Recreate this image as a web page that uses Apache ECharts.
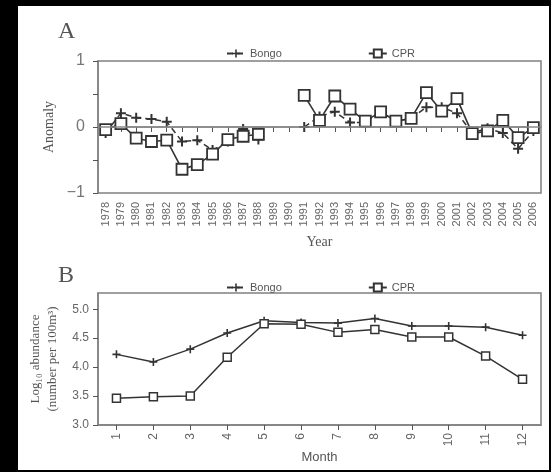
<!DOCTYPE html>
<html>
<head>
<meta charset="utf-8">
<script src="https://cdn.jsdelivr.net/npm/echarts@6/dist/echarts.min.js"></script>
<style>
  html, body { margin: 0; padding: 0; background: #000; }
  #chart { position: absolute; left: 18px; top: 6px; width: 531px; height: 464px; background: #fff; }
</style>
</head>
<body>
<div id="chart"></div>
<script>
// panel A: yearly anomaly
const years = ["1978", "1979", "1980", "1981", "1982", "1983", "1984", "1985", "1986", "1987",
  "1988", "1989", "1990", "1991", "1992", "1993", "1994", "1995", "1996", "1997",
  "1998", "1999", "2000", "2001", "2002", "2003", "2004", "2005", "2006"];
const bongoAnomaly = [-0.09, 0.21, 0.14, 0.12, 0.08, -0.22, -0.20, -0.35, -0.22, -0.03,
  -0.19, null, null, 0.00, 0.16, 0.23, 0.07, 0.07, 0.23, 0.09,
  0.13, 0.30, 0.30, 0.21, -0.09, -0.02, -0.09, -0.33, -0.06];
const cprAnomaly = [-0.04, 0.05, -0.17, -0.22, -0.20, -0.64, -0.57, -0.41, -0.19, -0.14,
  -0.11, null, null, 0.48, 0.10, 0.47, 0.27, 0.09, 0.23, 0.09,
  0.13, 0.52, 0.24, 0.43, -0.10, -0.06, 0.10, -0.16, -0.01];

// panel B: monthly log10 abundance
const months = ["1", "2", "3", "4", "5", "6", "7", "8", "9", "10", "11", "12"];
const bongoAbund = [4.22, 4.09, 4.31, 4.59, 4.80, 4.77, 4.76, 4.84, 4.71, 4.71, 4.69, 4.55];
const cprAbund = [3.46, 3.49, 3.50, 4.17, 4.75, 4.74, 4.60, 4.65, 4.52, 4.52, 4.19, 3.79];

const sans = "Liberation Sans";
const serif = "Liberation Serif";
const ink = "#333";
const frame = "#808080";
const plus = "path://M4,0H6V4H10V6H6V10H4V6H0V4H4Z";

const myChart = echarts.init(document.getElementById("chart"));

const axisBase = {
  axisLine: { show: true, lineStyle: { color: frame, width: 1.5 } },
  axisTick: { show: true, inside: false, length: 5, lineStyle: { color: "#555" } },
  splitLine: { show: false }
};

const option = {
  animation: false,
  backgroundColor: "#fff",
  title: [
    { text: "A", left: 40, top: 14, padding: 0,
      textStyle: { fontFamily: serif, fontSize: 24, fontWeight: "normal", color: "#555" } },
    { text: "B", left: 40, top: 258, padding: 0,
      textStyle: { fontFamily: serif, fontSize: 24, fontWeight: "normal", color: "#555" } }
  ],
  legend: [
    { data: ["Bongo", "CPR"], left: 203, top: 37, itemWidth: 18, itemHeight: 10, itemGap: 86,
      textStyle: { fontFamily: sans, fontSize: 11, color: "#555" } },
    { data: ["Bongo", "CPR"], left: 203, top: 271, itemWidth: 18, itemHeight: 10, itemGap: 86,
      textStyle: { fontFamily: sans, fontSize: 11, color: "#555" } }
  ],
  grid: [
    { left: 80, top: 55, width: 443, height: 132, show: true, borderColor: frame, borderWidth: 1.5 },
    { left: 80, top: 287, width: 443, height: 132, show: true, borderColor: frame, borderWidth: 1.5 }
  ],
  xAxis: [
    Object.assign({}, axisBase, {
      type: "category", gridIndex: 0, data: years, boundaryGap: true,
      axisTick: Object.assign({}, axisBase.axisTick, { alignWithLabel: true, interval: 0 }),
      axisLabel: { interval: 0, rotate: 90, margin: 9, fontFamily: sans, fontSize: 11, color: "#666" },
      name: "Year", nameLocation: "middle", nameGap: 42,
      nameTextStyle: { fontFamily: serif, fontSize: 14, color: "#555" }
    }),
    Object.assign({}, axisBase, {
      type: "category", gridIndex: 1, data: months, boundaryGap: true,
      axisTick: Object.assign({}, axisBase.axisTick, { alignWithLabel: true, interval: 0 }),
      axisLabel: { interval: 0, rotate: 90, margin: 8, fontFamily: sans, fontSize: 12, color: "#666" },
      name: "Month", nameLocation: "middle", nameGap: 26,
      nameTextStyle: { fontFamily: sans, fontSize: 13, color: "#555" }
    })
  ],
  yAxis: [
    Object.assign({}, axisBase, {
      type: "value", gridIndex: 0, min: -1, max: 1, interval: 0.5,
      axisLabel: {
        margin: 13, fontFamily: sans, fontSize: 16, color: "#777",
        formatter: v => (Number.isInteger(v) ? (v < 0 ? "\u2212" + Math.abs(v) : String(v)) : "")
      },
      name: "Anomaly", nameLocation: "middle", nameGap: 36,
      nameTextStyle: { fontFamily: serif, fontSize: 14, color: "#555" }
    }),
    Object.assign({}, axisBase, {
      type: "value", gridIndex: 1, min: 3, max: 5.28, interval: 0.5,
      axisLabel: {
        margin: 9, fontFamily: sans, fontSize: 12, color: "#666", showMaxLabel: false,
        formatter: v => v.toFixed(1)
      },
      name: "Log\u2081\u2080 abundance\n(number per 100m\u00b3)", nameLocation: "middle", nameGap: 36,
      nameTextStyle: { fontFamily: serif, fontSize: 13, color: "#555", lineHeight: 17 }
    })
  ],
  series: [
    {
      name: "Bongo", type: "line", xAxisIndex: 0, yAxisIndex: 0, data: bongoAnomaly,
      symbol: plus, symbolSize: 10, connectNulls: false,
      itemStyle: { color: ink },
      lineStyle: { color: ink, width: 1.5, type: [6, 4] },
      z: 3
    },
    {
      name: "CPR", type: "line", xAxisIndex: 0, yAxisIndex: 0, data: cprAnomaly,
      symbol: "rect", symbolSize: 11, connectNulls: false,
      itemStyle: { color: "#fff", borderColor: ink, borderWidth: 1.8 },
      lineStyle: { color: ink, width: 1.6 },
      markLine: {
        silent: true, symbol: ["none", "none"], label: { show: false },
        lineStyle: { color: "#888", width: 1.5, type: "solid" },
        data: [{ yAxis: 0 }]
      },
      z: 4
    },
    {
      name: "Bongo", type: "line", xAxisIndex: 1, yAxisIndex: 1, data: bongoAbund,
      symbol: plus, symbolSize: 8,
      itemStyle: { color: ink },
      lineStyle: { color: ink, width: 1.5 }
    },
    {
      name: "CPR", type: "line", xAxisIndex: 1, yAxisIndex: 1, data: cprAbund,
      symbol: "rect", symbolSize: 8,
      itemStyle: { color: "#fff", borderColor: ink, borderWidth: 1.5 },
      lineStyle: { color: ink, width: 1.5 }
    }
  ]
};

myChart.setOption(option);
</script>
</body>
</html>
